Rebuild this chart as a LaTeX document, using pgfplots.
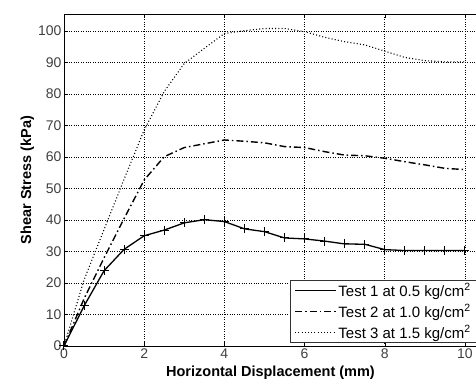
\documentclass[border=0pt]{standalone}
\usepackage{pgfplots}
\pgfplotsset{compat=1.18}
\usepackage{fontspec}
\setmainfont{Liberation Sans}
\begin{document}
\begin{tikzpicture}
\useasboundingbox (-64pt,-41pt) rectangle (412pt,346pt);
\begin{axis}[
  at={(0pt,0pt)}, anchor=south west,
  scale only axis,
  width=413pt, height=332pt,
  xmin=0, xmax=10.3, ymin=0, ymax=105.4,
  xtick={0,2,...,10}, ytick={0,10,...,100},
  tick align=inside,
  major tick length=4pt,
  xtick pos=both, ytick pos=left,
  grid=major,
  major grid style={black, dotted, line width=0.6pt},
  axis line style={black, line width=0.8pt},
  tick style={black},
  /pgf/number format/assume math mode=true,
  ticklabel style={font=\fontsize{14}{15}\selectfont, text=black!75},
  xticklabel style={yshift=1pt},
  yticklabel style={xshift=1pt},
  xlabel={Horizontal Displacement (mm)},
  ylabel={Shear Stress (kPa)},
  label style={font=\fontsize{14.5}{16}\selectfont\bfseries},
  xlabel style={yshift=-1pt},
  ylabel style={yshift=-3pt},
  legend cell align=left,
  legend style={font=\fontsize{15}{17}\selectfont, draw=black!80, line width=0.6pt, inner xsep=4pt, inner ysep=1pt, row sep=3pt,
    nodes={inner xsep=1.5pt, inner ysep=2pt},
    at={(rel axis cs:1,0)}, anchor=south east, xshift=-0.5pt, yshift=3pt},
  legend image code/.code={\draw[#1] (0pt,0pt) -- (41pt,0pt);},
]
\addplot[black, line width=1.3pt, mark=+, mark size=4.5pt, mark options={solid, line width=1pt}] coordinates {
(0,0) (0.5,12.7) (1,23.9) (1.5,30.7) (2,35.0) (2.5,36.8) (3,39.1) (3.5,40.1) (4,39.5) (4.5,37.2) (5,36.3) (5.5,34.3) (6,34.0) (6.5,33.3) (7,32.4) (7.5,32.3) (8,30.6) (8.5,30.3) (9,30.3) (9.5,30.3) (10,30.3)
};
\addlegendentry{Test 1 at 0.5 kg/cm$^{\mathrm{2}}$}
\addplot[black, line width=1.4pt, dash pattern=on 7pt off 3pt on 1.5pt off 3pt] coordinates {
(0,0) (0.5,15) (1,28) (1.5,40.5) (2,52.7) (2.5,60.1) (3,63.0) (3.5,64.2) (4,65.4) (4.5,65.0) (5,64.5) (5.5,63.3) (6,63.0) (6.5,61.7) (7,60.6) (7.5,60.4) (8,59.6) (8.5,58.5) (9,57.5) (9.5,56.4) (10,56.0)
};
\addlegendentry{Test 2 at 1.0 kg/cm$^{\mathrm{2}}$}
\addplot[black, line width=1.1pt, dash pattern=on 1pt off 2.2pt] coordinates {
(0,0) (0.5,21) (1,37) (1.5,53) (2,68.6) (2.5,80.8) (3,89.7) (3.5,94.5) (4,99.2) (4.5,100.1) (5,100.8) (5.5,100.8) (6,99.8) (6.5,98.0) (7,96.6) (7.5,95.6) (8,93.6) (8.5,91.6) (9,90.6) (9.5,90.2) (10,90.2)
};
\addlegendentry{Test 3 at 1.5 kg/cm$^{\mathrm{2}}$}
\end{axis}
\end{tikzpicture}
\end{document}
